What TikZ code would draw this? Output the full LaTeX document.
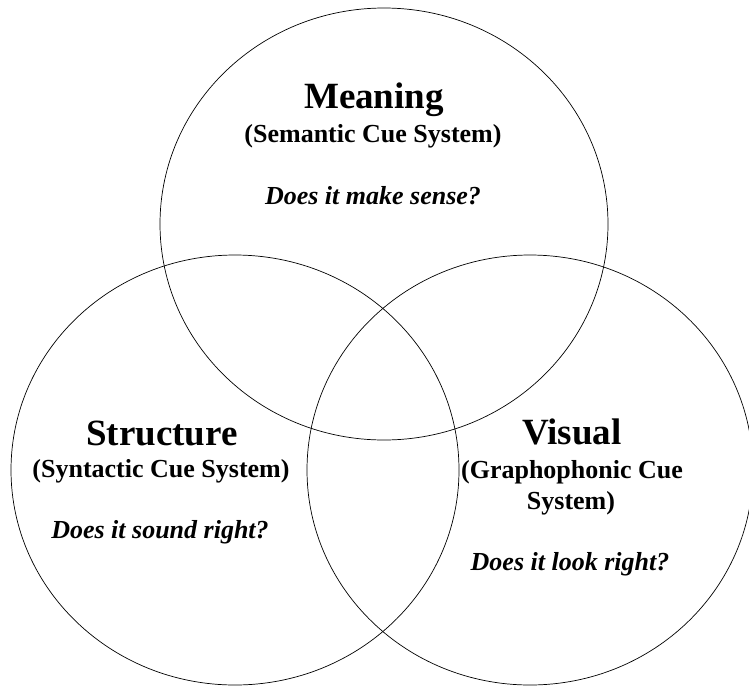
\documentclass[tikz,border=0pt]{standalone}
\usepackage{fontspec}
\setmainfont{Liberation Serif}

\begin{document}
\begin{tikzpicture}[
  x=1pt, y=-1pt,
  ring/.style={draw, line width=0.7pt},
  title/.style={anchor=base, inner sep=0pt, font=\bfseries\fontsize{37}{40}\selectfont},
  cue/.style={anchor=base, inner sep=0pt, font=\bfseries\fontsize{26}{30}\selectfont},
  ask/.style={anchor=base, inner sep=0pt, font=\bfseries\itshape\fontsize{26}{30}\selectfont}
]
  \useasboundingbox (0,0) rectangle (749,686);
  \clip (0,0) rectangle (749,686);

  % the three cue systems
  \draw[ring] (384,224) ellipse [x radius=224, y radius=216];
  \draw[ring] (235,470) ellipse [x radius=224, y radius=215];
  \draw[ring] (530,470) ellipse [x radius=223, y radius=215];

  \node[title] (meaning) at (374,108) {Meaning};
  \node[cue] (semantic) at (373,142) {(Semantic Cue System)};
  \node[ask] (sense) at (373,204) {Does it make sense?};

  \node[title] (structure) at (162,445) {Structure};
  \node[cue] (syntactic) at (161,477) {(Syntactic Cue System)};
  \node[ask] (sound) at (160,538) {Does it sound right?};

  \node[title] (visual) at (572,444) {Visual};
  \node[cue] (grapho) at (572,478) {(Graphophonic Cue};
  \node[cue] (graphosys) at (571,509) {System)};
  \node[ask] (look) at (570,570) {Does it look right?};
\end{tikzpicture}
\end{document}
